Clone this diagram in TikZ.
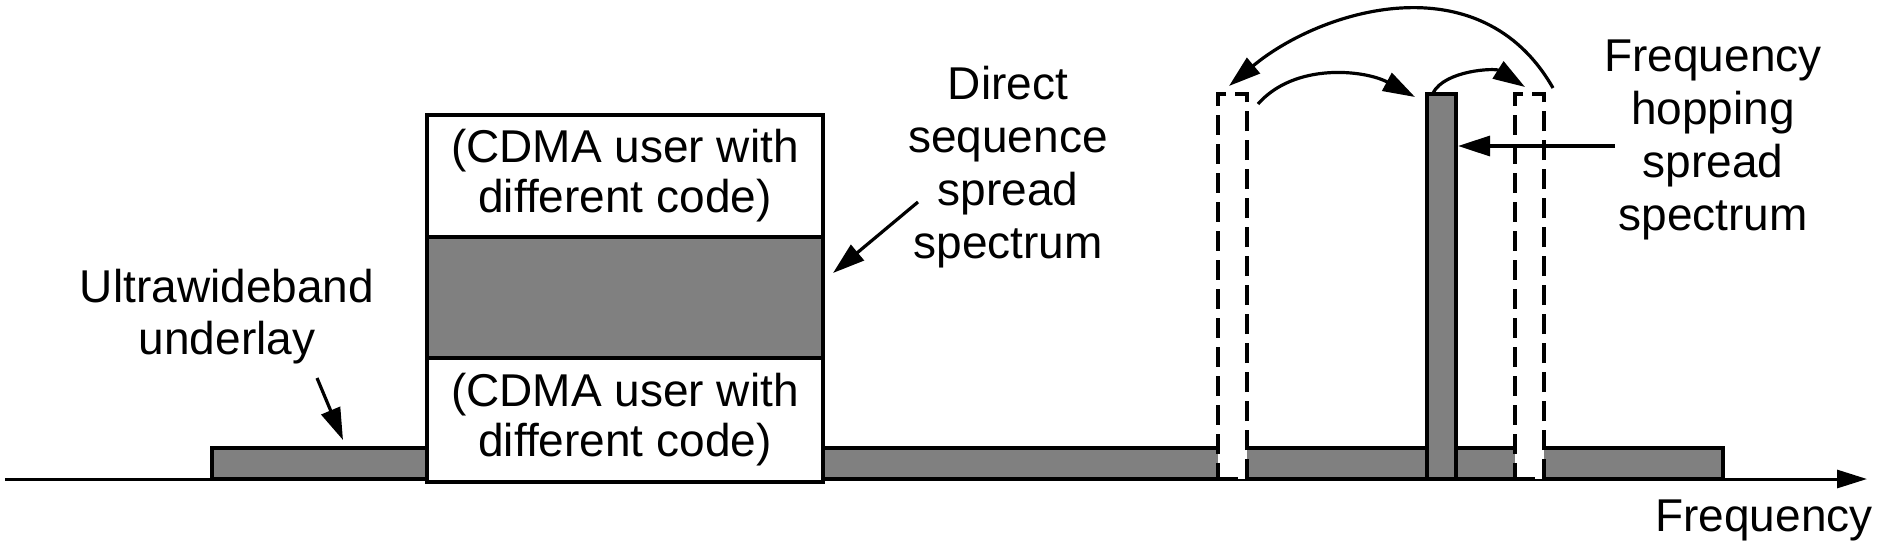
\documentclass[tikz,border=0pt]{standalone}
\usepackage{fontspec}
\setmainfont{Liberation Sans}
\usetikzlibrary{arrows.meta}
\definecolor{bandgray}{RGB}{128,128,128}
\begin{document}
\begin{tikzpicture}[x=1pt,y=-1pt,line width=3.2pt,
  lbl/.style={font=\fontsize{46}{53}\selectfont,align=center,inner sep=0pt},
  shapebox/.style={inner sep=0pt,outer sep=0pt,anchor=center},
  band/.style={shapebox,draw=black,fill=bandgray},
  userbox/.style={shapebox,draw=black,fill=white,minimum width=396pt,
    font=\fontsize{46}{50}\selectfont,align=center},
  ghost/.style={shapebox,draw=black,fill=white,dash pattern=on 20pt off 9pt,
    minimum width=29pt,minimum height=385pt},
  tip/.style={-{Triangle[length=32pt,width=20pt]}}]
\useasboundingbox (0,0) rectangle (1888,555);
% frequency axis
\coordinate (axL) at (5,479);
\coordinate (axR) at (1867,479);
\draw[-{Triangle[length=30pt,width=18pt]},line width=3pt] (axL) -- (axR);
\node[lbl] (freq) at (1764,520) {Frequency};
% ultrawideband underlay
\node[band,minimum width=1511pt,minimum height=31pt] (uwbband) at (967.5,463.5) {};
% CDMA boxes
\node[userbox,minimum height=122pt] (cdmatop) at (625,176) {(CDMA user with\\different code)};
\node[band,minimum width=396pt,minimum height=121pt] (dsband) at (625,297.5) {};
\node[userbox,minimum height=124pt] (cdmabot) at (625,420) {(CDMA user with\\different code)};
% frequency hopping
\node[ghost] (hopL) at (1232.5,286.5) {};
\node[band,minimum width=29pt,minimum height=385pt] (hopbar) at (1441.5,286.5) {};
\node[ghost] (hopR) at (1529.5,286.5) {};
% labels
\node[lbl] (fhlbl) at (1713,140) {Frequency\\hopping\\spread\\spectrum};
\node[lbl] (dslbl) at (1008,167) {Direct\\sequence\\spread\\spectrum};
\node[lbl,font=\fontsize{46}{52}\selectfont] (uwblbl) at (227,317) {Ultrawideband\\underlay};
% label arrows
\coordinate (uwbA) at (317,378);
\coordinate (uwbB) at (343,440);
\draw[tip] (uwbA) -- (uwbB);
\coordinate (dsA) at (918,202);
\coordinate (dsB) at (833,273);
\draw[tip] (dsA) -- (dsB);
\coordinate (fhA) at (1615,146);
\coordinate (fhB) at (1458,146);
\draw[tip] (fhA) -- (fhB);
% hop arrows
\coordinate (bigA) at (1553,88);
\coordinate (bigB) at (1229,86);
\draw[tip] (bigA) .. controls (1480,-40) and (1320,10) .. (bigB);
\coordinate (h1A) at (1258,104);
\coordinate (h1B) at (1415,97);
\draw[tip] (h1A) .. controls (1295,62) and (1365,70) .. (h1B);
\coordinate (h2A) at (1433,93);
\coordinate (h2B) at (1525,87);
\draw[tip] (h2A) .. controls (1445,70) and (1495,68) .. (h2B);
\end{tikzpicture}
\end{document}
